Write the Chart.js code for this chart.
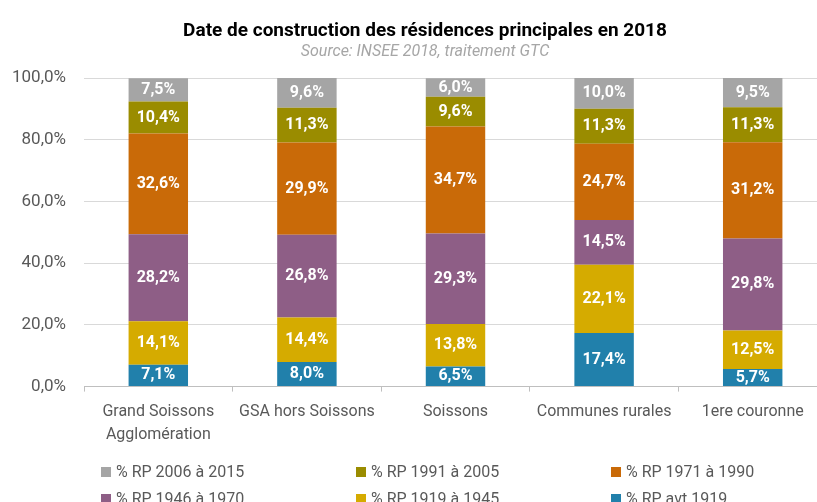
<!DOCTYPE html>
<html lang="fr">
<head>
<meta charset="utf-8">
<title>Date de construction des résidences principales en 2018</title>
<script src="https://cdn.jsdelivr.net/npm/chart.js@4.4.1/dist/chart.umd.min.js"></script>
<style>
  html, body { margin: 0; padding: 0; background: #fff; overflow: hidden; }
  #wrap { position: relative; width: 850px; height: 502px; }
  #legende {
    position: absolute; left: 101px; top: 458px;
    display: grid; grid-template-columns: 255px 255px 255px;
    font-family: 'Roboto', sans-serif;
    font-size: 16px; line-height: 27px; color: #595959;
  }
  #legende .carre { display: inline-block; width: 10px; height: 10px; margin-right: 5px; }
</style>
</head>
<body>
<div id="wrap">
  <canvas id="graphique" width="850" height="502"></canvas>
  <div id="legende"></div>
</div>
<script>
const police = "'Roboto', sans-serif";

// territoires et tranches d'âge du parc (du bas vers le haut de la pile)
const categories = [['Grand Soissons', 'Agglomération'], 'GSA hors Soissons', 'Soissons', 'Communes rurales', '1ere couronne'];
const series = ['% RP avt 1919', '% RP 1919 à 1945', '% RP 1946 à 1970', '% RP 1971 à 1990', '% RP 1991 à 2005', '% RP 2006 à 2015'];
const couleurs = ['#2180ab', '#d5ab00', '#8e5e86', '#c96a08', '#9a8c00', '#a5a5a5'];

const avt1919 = [7.1, 8.0, 6.5, 17.4, 5.7];
const rp1919a1945 = [14.1, 14.4, 13.8, 22.1, 12.5];
const rp1946a1970 = [28.2, 26.8, 29.3, 14.5, 29.8];
const rp1971a1990 = [32.6, 29.9, 34.7, 24.7, 31.2];
const rp1991a2005 = [10.4, 11.3, 9.6, 11.3, 11.3];
const rp2006a2015 = [7.5, 9.6, 6.0, 10.0, 9.5];
const valeurs = [avt1919, rp1919a1945, rp1946a1970, rp1971a1990, rp1991a2005, rp2006a2015];

const graduations = [0, 20, 40, 60, 80, 100];

const pct = v => v.toFixed(1).replace('.', ',') + '%';

// étiquettes blanches au centre de chaque segment
const etiquettes = {
  id: 'etiquettes',
  afterDatasetsDraw(chart) {
    const c = chart.ctx;
    c.save();
    c.font = 'bold 16px ' + police;
    c.fillStyle = '#ffffff';
    c.textAlign = 'center';
    c.textBaseline = 'middle';
    chart.data.datasets.forEach((ds, i) => {
      chart.getDatasetMeta(i).data.forEach((bar, j) => {
        c.fillText(pct(ds.data[j]), bar.x, (bar.y + bar.base) / 2);
      });
    });
    c.restore();
  }
};

new Chart(document.getElementById('graphique').getContext('2d'), {
  type: 'bar',
  data: {
    labels: categories,
    datasets: series.map((nom, i) => ({
      label: nom,
      data: valeurs[i],
      backgroundColor: couleurs[i],
      borderWidth: 0,
      categoryPercentage: 1,
      barPercentage: 0.4
    }))
  },
  options: {
    responsive: false,
    animation: false,
    layout: { padding: { left: 0, right: 0, bottom: 46 } },
    plugins: {
      legend: { display: false },
      tooltip: { enabled: false },
      title: {
        display: true,
        text: 'Date de construction des résidences principales en 2018',
        color: '#000000',
        font: { family: police, size: 19, weight: 'bold' },
        padding: { top: 20, bottom: 0 }
      },
      subtitle: {
        display: true,
        text: 'Source: INSEE 2018, traitement GTC',
        color: '#a6a6a6',
        font: { family: police, size: 16, style: 'italic' },
        padding: { bottom: 16 }
      }
    },
    scales: {
      x: {
        stacked: true,
        offset: true,
        grid: { display: true, drawOnChartArea: false, drawTicks: true, tickLength: 5, color: '#bfbfbf', offset: true },
        border: { color: '#bfbfbf' },
        ticks: { color: '#595959', font: { family: police, size: 16, lineHeight: 1.45 }, padding: 9, maxRotation: 0 }
      },
      y: {
        stacked: true,
        min: 0,
        max: 100,
        afterBuildTicks: s => { s.ticks = graduations.map(v => ({ value: v })); },
        afterFit: s => { s.width = 84; },
        grid: { color: '#d9d9d9', drawTicks: false },
        border: { display: false },
        ticks: { color: '#595959', font: { family: police, size: 17 }, padding: 18, callback: v => pct(v) }
      },
      // marge droite vide, pour que le titre reste centré sur toute la largeur
      marge: {
        position: 'right',
        afterFit: s => { s.width = 23; },
        grid: { display: false },
        border: { display: false },
        ticks: { display: false }
      }
    }
  },
  plugins: [etiquettes]
});

// légende en trois colonnes, tranches récentes en premier
const legende = document.getElementById('legende');
for (let i = series.length - 1; i >= 0; i--) {
  const item = document.createElement('div');
  item.innerHTML = '<span class="carre" style="background:' + couleurs[i] + '"></span>' + series[i];
  legende.appendChild(item);
}
</script>
</body>
</html>
